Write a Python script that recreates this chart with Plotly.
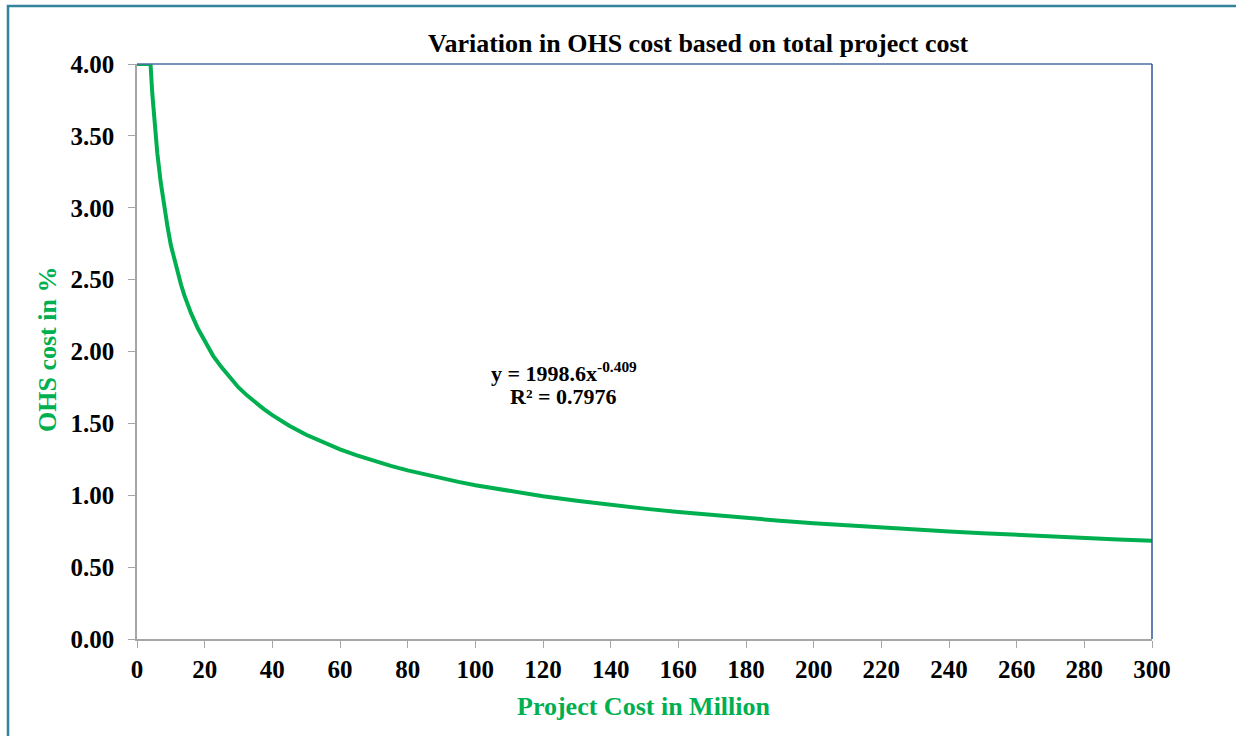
import plotly.graph_objects as go

# Values
project_cost = [0, 1, 2, 3, 4, 4.5, 5, 6, 7, 8, 9, 10, 11, 12, 13, 14, 15, 16, 18, 20, 22.5,
                25, 27.5, 30, 32.5, 35, 37.5, 40, 45, 50, 55, 60, 65, 70, 75, 80, 85, 90, 95,
                100, 110, 120, 130, 140, 150, 160, 170, 180, 190, 200, 210, 220, 230, 240,
                250, 260, 270, 280, 290, 300]
ohs_cost = [4.00, 4.00, 4.00, 4.00, 4.00, 3.80, 3.64, 3.38, 3.18, 3.01, 2.87, 2.74, 2.64,
            2.55, 2.466, 2.39, 2.326, 2.265, 2.16, 2.07, 1.97, 1.89, 1.815, 1.75, 1.695,
            1.645, 1.599, 1.557, 1.484, 1.421, 1.367, 1.319, 1.277, 1.239, 1.204, 1.173,
            1.144, 1.117, 1.093, 1.070, 1.030, 0.993, 0.962, 0.933, 0.907, 0.883, 0.862,
            0.842, 0.823, 0.806, 0.790, 0.775, 0.761, 0.748, 0.736, 0.724, 0.713, 0.703,
            0.693, 0.683]

x_ticks = list(range(0, 301, 20))
y_ticks = [0, 0.5, 1.0, 1.5, 2.0, 2.5, 3.0, 3.5, 4.0]

W, H = 1236, 736
L, R, T, B = 137, 1152, 64, 639
pw, ph = R - L, B - T

def px(xp):
    return (xp - L) / pw

def py(yp):
    return (B - yp) / ph

FONT = "Liberation Serif"
GREEN = "#00B050"

fig = go.Figure()
fig.add_trace(go.Scatter(x=project_cost, y=ohs_cost, mode="lines",
                         line=dict(color=GREEN, width=4),
                         hoverinfo="x+y", showlegend=False))

fig.update_layout(
    width=W, height=H,
    margin=dict(l=L, r=W - R, t=T, b=H - B),
    paper_bgcolor="white", plot_bgcolor="white",
    font=dict(family=FONT, color="black"),
    xaxis=dict(range=[0, 300], tickvals=x_ticks, ticktext=[str(v) for v in x_ticks],
               showgrid=False, zeroline=False, showline=True, linecolor="#A6A6A6",
               linewidth=1.5, ticks="outside", ticklen=7, tickcolor="#A6A6A6",
               tickfont=dict(family=FONT, size=25, color="black", weight="bold"),
               fixedrange=True),
    yaxis=dict(range=[0, 4], tickvals=y_ticks, ticktext=[f"{v:.2f}" for v in y_ticks],
               showgrid=False, zeroline=False, showline=True, linecolor="#A6A6A6",
               linewidth=1.5, ticks="outside", ticklen=7, tickcolor="#A6A6A6",
               ticklabelstandoff=9,
               tickfont=dict(family=FONT, size=25, color="black", weight="bold"),
               fixedrange=True),
)

# top and right plot frame (blue)
fig.add_shape(type="line", xref="paper", yref="paper", x0=0, x1=1, y0=1, y1=1,
              line=dict(color="#4A6FA5", width=1.5))
fig.add_shape(type="line", xref="paper", yref="paper", x0=1, x1=1, y0=0, y1=1,
              line=dict(color="#2F5597", width=1.5))
# outer chart border (teal)
fig.add_shape(type="rect", xref="paper", yref="paper",
              x0=px(8), x1=px(1245), y0=py(745), y1=py(6),
              line=dict(color="#31849B", width=2.5), fillcolor="rgba(0,0,0,0)")

annotations = [
    dict(text="<b>Variation in OHS cost based on total project cost</b>",
         x=px(698), y=py(44), font=dict(size=26, color="black", family=FONT)),
    dict(text="<b>Project Cost in Million</b>",
         x=px(644), y=py(706), font=dict(size=26, color=GREEN, family=FONT)),
    dict(text="<b>OHS cost in %</b>", textangle=-90,
         x=px(47), y=py(350), font=dict(size=26, color=GREEN, family=FONT)),
    dict(text="<b>y = 1998.6x<sup>-0.409</sup></b>",
         x=px(564), y=py(372), font=dict(size=22, color="black", family=FONT)),
    dict(text="<b>R² = 0.7976</b>",
         x=px(563), y=py(396), font=dict(size=22, color="black", family=FONT)),
]
for a in annotations:
    a.update(xref="paper", yref="paper", showarrow=False, xanchor="center", yanchor="middle")
    fig.add_annotation(**a)

fig.write_html("out.html", config={"displayModeBar": False},
               post_script="document.body.style.margin='0';document.body.style.overflow='hidden';")
